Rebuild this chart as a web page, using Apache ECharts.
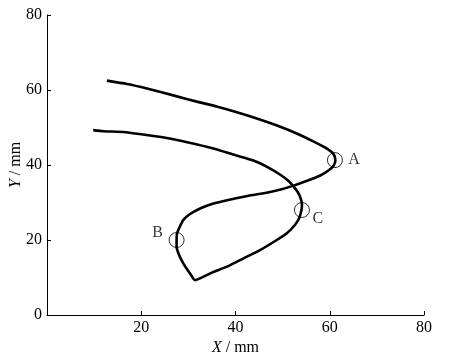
<!DOCTYPE html>
<html>
<head>
<meta charset="utf-8">
<script src="https://cdn.jsdelivr.net/npm/echarts@6/dist/echarts.min.js"></script>
<style>html,body{margin:0;padding:0;background:#fff}#c{width:456px;height:363px}</style>
</head>
<body>
<div id="c"></div>
<script>
// Trajectory (X, Y) in mm, in drawing order
const pathX = [9.8,12,16.2,20,25.4,30,35.3,40,43.8,47,49.5,51.2,52.3,53.2,53.8,54.1,54,53.5,52.6,50.9,48.5,45.2,42,38.2,35,31.4,
  30.5,29.4,28.6,27.9,27.5,27.5,27.6,28.2,28.9,30.2,32.5,35,38.2,42,46.6,50,52.3,55.2,58,59.8,60.8,61.2,60.8,59.5,56.5,53,49.5,45,41,36,31.8,27,21.2,17,12.7];
const pathY = [49.3,49,48.8,48.2,47.2,46,44.4,42.6,41.2,39.3,37.4,35.8,34.3,32.8,31.2,29.5,28,25.8,24,21.8,19.8,17.3,15.3,12.9,11.3,9.3,
  10.8,12.8,14.5,16.4,18.2,20,21.8,23.6,25.3,26.8,28.4,29.6,30.6,31.6,32.6,33.6,34.5,35.8,37.2,38.6,39.8,41.3,42.9,44.3,46.3,48.4,50.2,52.2,53.8,55.6,56.9,58.5,60.4,61.6,62.5];
// Marked points
const markNames = ['A','B','C'];
const markX = [61.1, 27.5, 54.1];
const markY = [41.3, 20.0, 28.0];
// Axis ticks
const xTicks = [0,20,40,60,80];
const yTicks = [0,20,40,60,80];

const font = '"Liberation Serif","Times New Roman",serif';
const fs = 16;
const labelOffsets = {A:[19,0], B:[-19,-7], C:[16,9]};

const chart = echarts.init(document.getElementById('c'));
chart.setOption({
  animation:false,
  backgroundColor:'#fff',
  grid:{left:47,right:32,top:15,bottom:48,containLabel:false,outerBoundsMode:'none'},
  xAxis:{
    type:'value', min:xTicks[0], max:xTicks[xTicks.length-1], interval:20,
    axisLine:{lineStyle:{color:'#000',width:1}},
    axisTick:{inside:true,length:4,lineStyle:{color:'#000'}},
    axisLabel:{color:'#000',fontFamily:font,fontSize:fs,margin:5,showMinLabel:false},
    splitLine:{show:false},
    name:'{i|X} / mm', nameLocation:'middle', nameGap:25, nameMoveOverlap:false,
    nameTextStyle:{color:'#000',fontFamily:font,fontSize:fs,rich:{i:{fontStyle:'italic',fontFamily:font,fontSize:fs,color:'#000'}}}
  },
  yAxis:{
    type:'value', min:yTicks[0], max:yTicks[yTicks.length-1], interval:20,
    axisLine:{show:true,lineStyle:{color:'#000',width:1}},
    axisTick:{show:true,inside:true,length:4,lineStyle:{color:'#000'}},
    axisLabel:{color:'#000',fontFamily:font,fontSize:fs,margin:5},
    splitLine:{show:false},
    name:'{i|Y} / mm', nameLocation:'middle', nameGap:31, nameRotate:90, nameMoveOverlap:false,
    nameTextStyle:{color:'#000',fontFamily:font,fontSize:fs,verticalAlign:'middle',rich:{i:{fontStyle:'italic',fontFamily:font,fontSize:fs,color:'#000'}}}
  },
  series:[
    {
      type:'line',
      data:pathX.map((x,i)=>[x,pathY[i]]),
      showSymbol:false, symbol:'none', smooth:0.2,
      lineStyle:{color:'#000',width:2.6},
      z:2
    },
    {
      type:'scatter',
      data:markNames.map((n,i)=>({name:n,value:[markX[i],markY[i]],label:{offset:labelOffsets[n]}})),
      symbol:'circle', symbolSize:15,
      itemStyle:{color:'rgba(0,0,0,0)',borderColor:'#000',borderWidth:1},
      label:{show:true,position:'inside',formatter:'{b}',color:'#000',fontFamily:font,fontSize:fs},
      z:3
    }
  ]
});
</script>
</body>
</html>
